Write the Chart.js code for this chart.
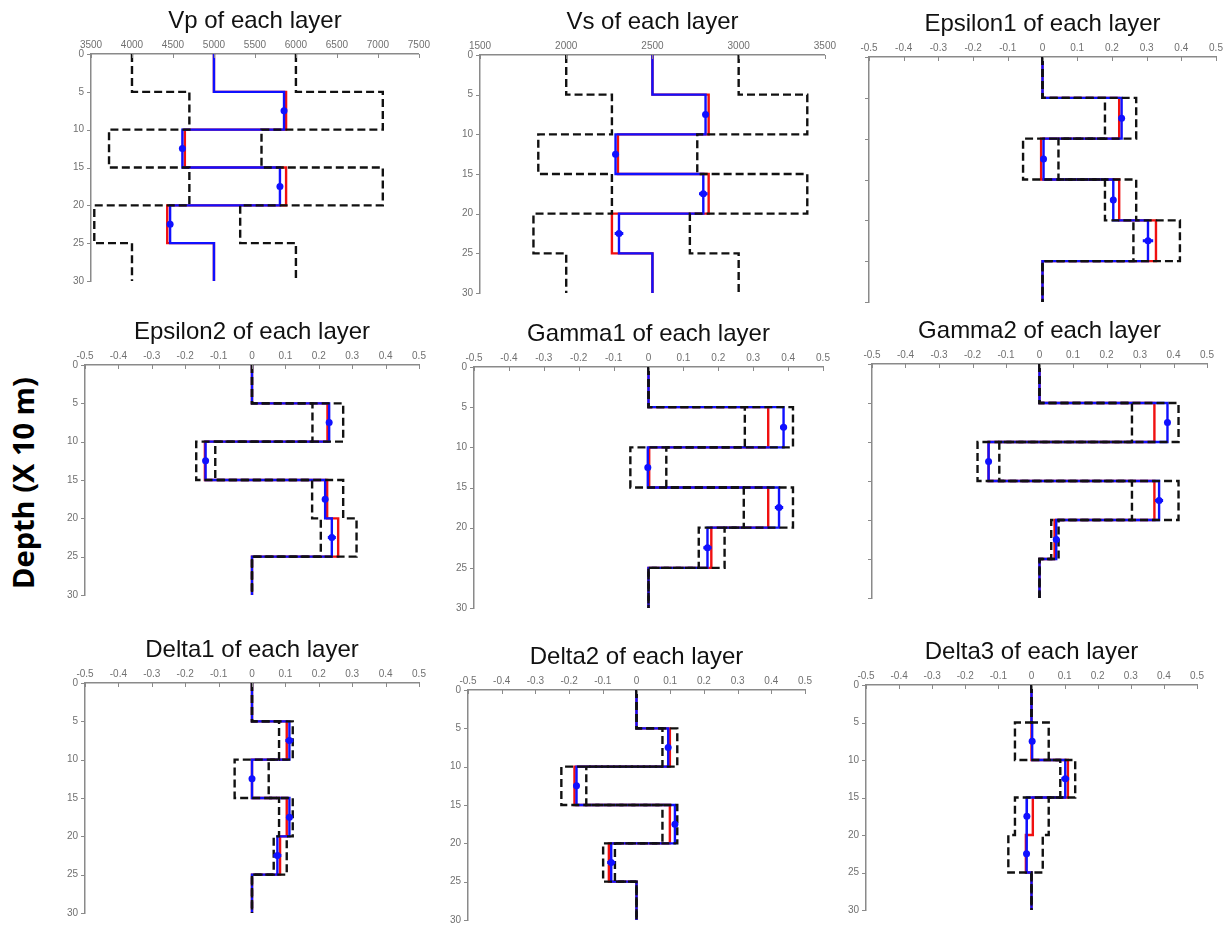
<!DOCTYPE html>
<html>
<head>
<meta charset="utf-8">
<script src="https://cdn.jsdelivr.net/npm/chart.js@4.4.1/dist/chart.umd.min.js"></script>
<style>
  html, body { margin: 0; padding: 0; background: #fff; }
  body { width: 1227px; height: 938px; position: relative; overflow: hidden; }
  canvas { position: absolute; }
  #depthLabel {
    position: absolute; left: 22px; top: 483px;
    transform: translate(-50%, -50%) rotate(-90deg);
    font: bold 29px "Open Sans", sans-serif; color: #000; white-space: nowrap;
  }
</style>
</head>
<body>
<div id="depthLabel">Depth (X 10 m)</div>
<script>
// ---- layer geometry (depth in units of 10 m) ----
const layerTops    = [0, 5, 10, 15, 20, 25];
const layerBottoms = [5, 10, 15, 20, 25, 30];
const depthTicks   = [0, 5, 10, 15, 20, 25, 30];

// ---- axis tick labels ----
const vpTicks    = [3500, 4000, 4500, 5000, 5500, 6000, 6500, 7000, 7500];
const vsTicks    = [1500, 2000, 2500, 3000, 3500];
const paramTicks = [-0.5, -0.4, -0.3, -0.2, -0.1, 0, 0.1, 0.2, 0.3, 0.4, 0.5];

// ---- Vp ----
const vpLower = [4000, 4700, 3720, 4700, 3540, 4000];
const vpUpper = [6000, 7060, 5580, 7060, 5320, 6000];
const vpTrue  = [5000, 5880, 4645, 5880, 4430, 5000];
const vpEst   = [5000, 5855, 4615, 5805, 4465, 5000];
const vpErr   = [0, 20, 15, 10, 30, 0];

// ---- Vs ----
const vsLower = [2000, 2265, 1838, 2265, 1810, 2000];
const vsUpper = [3000, 3398, 2760, 3398, 2717, 3000];
const vsTrue  = [2500, 2826, 2300, 2826, 2265, 2500];
const vsEst   = [2500, 2808, 2286, 2795, 2306, 2500];
const vsErr   = [0, 15, 12, 25, 25, 0];

// ---- Epsilon1 ----
const eps1Lower = [0, 0.180, -0.056, 0.180, 0.262, 0];
const eps1Upper = [0, 0.270, 0.046, 0.270, 0.396, 0];
const eps1True  = [0, 0.221, -0.004, 0.221, 0.327, 0];
const eps1Est   = [0, 0.228, 0.003, 0.204, 0.304, 0];
const eps1Err   = [0, 0.005, 0.006, 0.006, 0.015, 0];

// ---- Epsilon2 ----
const eps2Lower = [0, 0.181, -0.167, 0.180, 0.206, 0];
const eps2Upper = [0, 0.273, -0.110, 0.273, 0.313, 0];
const eps2True  = [0, 0.226, -0.141, 0.225, 0.258, 0];
const eps2Est   = [0, 0.231, -0.139, 0.219, 0.239, 0];
const eps2Err   = [0, 0.004, 0.008, 0.006, 0.012, 0];

// ---- Gamma1 ----
const gam1Lower = [0, 0.276, -0.052, 0.273, 0.144, 0];
const gam1Upper = [0, 0.414, 0.051, 0.414, 0.218, 0];
const gam1True  = [0, 0.343, 0.002, 0.343, 0.180, 0];
const gam1Est   = [0, 0.387, -0.002, 0.374, 0.169, 0];
const gam1Err   = [0, 0.010, 0.004, 0.012, 0.012, 0];

// ---- Gamma2 ----
const gam2Lower = [0, 0.276, -0.185, 0.276, 0.035, 0];
const gam2Upper = [0, 0.415, -0.120, 0.415, 0.057, 0];
const gam2True  = [0, 0.343, -0.152, 0.343, 0.045, 0];
const gam2Est   = [0, 0.382, -0.152, 0.357, 0.050, 0];
const gam2Err   = [0, 0.006, 0.004, 0.012, 0.008, 0];

// ---- Delta1 ----
const del1Lower = [0, 0.081, -0.052, 0.081, 0.065, 0];
const del1Upper = [0, 0.122, 0.050, 0.122, 0.104, 0];
const del1True  = [0, 0.104, 0, 0.104, 0.084, 0];
const del1Est   = [0, 0.112, 0, 0.112, 0.076, 0];
const del1Err   = [0, 0.012, 0.005, 0.006, 0.012, 0];

// ---- Delta2 ----
const del2Lower = [0, 0.077, -0.223, 0.077, -0.099, 0];
const del2Upper = [0, 0.121, -0.149, 0.121, -0.064, 0];
const del2True  = [0, 0.099, -0.184, 0.099, -0.082, 0];
const del2Est   = [0, 0.094, -0.178, 0.114, -0.075, 0];
const del2Err   = [0, 0.004, 0.006, 0.008, 0.012, 0];

// ---- Delta3 ----
const del3Lower = [0, -0.050, 0.087, -0.050, -0.070, 0];
const del3Upper = [0, 0.052, 0.132, 0.052, 0.034, 0];
const del3True  = [0, 0, 0.110, 0.004, -0.017, 0];
const del3Est   = [0, 0.002, 0.102, -0.014, -0.015, 0];
const del3Err   = [0, 0.004, 0.012, 0.008, 0.008, 0];

// ---- styling ----
const AXIS_COLOR = '#8a8a8a';
const TICK_COLOR = '#707070';
const BLUE = '#1010ff';
const RED  = '#f01010';
const BLACK = '#111111';

// plot rectangles: left, top, right, bottom of each plotting area on the page
const panels = [
  { title: 'Vp of each layer',       rect: [91, 54, 419, 286],   ticks: vpTicks,    lo: vpLower,   hi: vpUpper,   tr: vpTrue,   es: vpEst,   er: vpErr,   yLabels: true },
  { title: 'Vs of each layer',       rect: [480, 55, 825, 298],  ticks: vsTicks,    lo: vsLower,   hi: vsUpper,   tr: vsTrue,   es: vsEst,   er: vsErr,   yLabels: true },
  { title: 'Epsilon1 of each layer', rect: [869, 57, 1216, 302], ticks: paramTicks, lo: eps1Lower, hi: eps1Upper, tr: eps1True, es: eps1Est, er: eps1Err, yLabels: false },
  { title: 'Epsilon2 of each layer', rect: [85, 365, 419, 600],  ticks: paramTicks, lo: eps2Lower, hi: eps2Upper, tr: eps2True, es: eps2Est, er: eps2Err, yLabels: true },
  { title: 'Gamma1 of each layer',   rect: [474, 367, 823, 613], ticks: paramTicks, lo: gam1Lower, hi: gam1Upper, tr: gam1True, es: gam1Est, er: gam1Err, yLabels: true },
  { title: 'Gamma2 of each layer',   rect: [872, 364, 1207, 598],ticks: paramTicks, lo: gam2Lower, hi: gam2Upper, tr: gam2True, es: gam2Est, er: gam2Err, yLabels: false },
  { title: 'Delta1 of each layer',   rect: [85, 683, 419, 918],  ticks: paramTicks, lo: del1Lower, hi: del1Upper, tr: del1True, es: del1Est, er: del1Err, yLabels: true },
  { title: 'Delta2 of each layer',   rect: [468, 690, 805, 925], ticks: paramTicks, lo: del2Lower, hi: del2Upper, tr: del2True, es: del2Est, er: del2Err, yLabels: true },
  { title: 'Delta3 of each layer',   rect: [866, 685, 1197, 915],ticks: paramTicks, lo: del3Lower, hi: del3Upper, tr: del3True, es: del3Est, er: del3Err, yLabels: true }
];

// space reserved around the plotting area inside each canvas
const Y_AXIS_W = 30, X_AXIS_H = 16, TITLE_H = 32, PAD_R = 14, PAD_B = 8;

// staircase profile: each layer is a vertical segment, joined by horizontal steps
function steps(values) {
  const pts = [];
  values.forEach((v, i) => {
    pts.push({ x: v, y: layerTops[i] });
    pts.push({ x: v, y: layerBottoms[i] });
  });
  return pts;
}

// estimates are marked at mid-depth of the inverted layers (2..5)
function midPoints(values) {
  const pts = [];
  for (let i = 1; i < values.length - 1; i++) {
    pts.push({ x: values[i], y: (layerTops[i] + layerBottoms[i]) / 2 });
  }
  return pts;
}

function errorBars(values, errs) {
  const pts = [];
  for (let i = 1; i < values.length - 1; i++) {
    const d = (layerTops[i] + layerBottoms[i]) / 2;
    pts.push({ x: values[i] - errs[i], y: d });
    pts.push({ x: values[i] + errs[i], y: d });
    pts.push({ x: null, y: null });
  }
  return pts;
}

function fmt(v) { return String(+Number(v).toFixed(2)); }

// short tick marks: inward on the top axis, outward on the depth axis
const tickMarks = {
  id: 'tickMarks',
  afterDraw(chart) {
    const { ctx, chartArea: a, scales } = chart;
    ctx.save();
    ctx.strokeStyle = AXIS_COLOR;
    ctx.lineWidth = 1;
    scales.x.ticks.forEach(t => {
      const px = Math.round(scales.x.getPixelForValue(t.value)) + 0.5;
      ctx.beginPath(); ctx.moveTo(px, a.top); ctx.lineTo(px, a.top + 4); ctx.stroke();
    });
    scales.y.ticks.forEach(t => {
      const py = Math.round(scales.y.getPixelForValue(t.value)) + 0.5;
      ctx.beginPath(); ctx.moveTo(a.left - 4, py); ctx.lineTo(a.left, py); ctx.stroke();
    });
    ctx.restore();
  }
};

panels.forEach(p => {
  const [L, T, R, B] = p.rect;
  const cv = document.createElement('canvas');
  const w = R - L + Y_AXIS_W + PAD_R;
  const h = B - T + X_AXIS_H + TITLE_H + PAD_B;
  cv.width = w; cv.height = h;
  cv.style.left = (L - Y_AXIS_W) + 'px';
  cv.style.top = (T - X_AXIS_H - TITLE_H) + 'px';
  cv.style.width = w + 'px'; cv.style.height = h + 'px';
  document.body.appendChild(cv);

  const lineBase = { showLine: true, pointRadius: 0, fill: false, borderJoinStyle: 'miter' };

  new Chart(cv, {
    type: 'scatter',
    data: {
      datasets: [
        { label: 'estimate', data: midPoints(p.es), showLine: false, pointRadius: 3.5,
          pointBackgroundColor: BLUE, pointBorderWidth: 0 },
        { ...lineBase, label: 'error', data: errorBars(p.es, p.er), borderColor: BLUE, borderWidth: 3 },
        { ...lineBase, label: 'lower bound', data: steps(p.lo), borderColor: BLACK, borderWidth: 2.4, borderDash: [8, 4] },
        { ...lineBase, label: 'upper bound', data: steps(p.hi), borderColor: BLACK, borderWidth: 2.4, borderDash: [8, 4] },
        { ...lineBase, label: 'inverted', data: steps(p.es), borderColor: BLUE, borderWidth: 2.4 },
        { ...lineBase, label: 'true', data: steps(p.tr), borderColor: RED, borderWidth: 2.4 }
      ]
    },
    options: {
      responsive: false,
      devicePixelRatio: 1,
      animation: false,
      layout: { padding: { left: 0, top: 0, right: PAD_R, bottom: PAD_B } },
      plugins: {
        legend: { display: false },
        tooltip: { enabled: false },
        title: {
          display: true, text: p.title, fullSize: false, color: '#111',
          font: { family: '"Liberation Sans", Arial, sans-serif', size: 24, weight: 'normal', lineHeight: 1.25 },
          padding: { top: 0, bottom: 2 }
        }
      },
      scales: {
        x: {
          type: 'linear', position: 'top',
          min: p.ticks[0], max: p.ticks[p.ticks.length - 1],
          grid: { display: false, drawTicks: false },
          border: { display: true, color: AXIS_COLOR, width: 1.5 },
          ticks: { color: TICK_COLOR, padding: 3, maxRotation: 0, autoSkip: false,
                   font: { family: '"Liberation Sans", Arial, sans-serif', size: 10 },
                   callback: v => fmt(v) },
          afterBuildTicks: s => { s.ticks = p.ticks.map(v => ({ value: v })); },
          afterFit: s => { s.height = X_AXIS_H; }
        },
        y: {
          type: 'linear', reverse: true, min: 0, max: 30,
          grid: { display: false, drawTicks: false },
          border: { display: true, color: AXIS_COLOR, width: 1.5 },
          ticks: { display: p.yLabels, color: TICK_COLOR, padding: 7, autoSkip: false,
                   font: { family: '"Liberation Sans", Arial, sans-serif', size: 10 },
                   callback: v => fmt(v) },
          afterBuildTicks: s => { s.ticks = depthTicks.map(v => ({ value: v })); },
          afterFit: s => { s.width = Y_AXIS_W; }
        }
      }
    },
    plugins: [tickMarks]
  });
});
</script>
</body>
</html>
